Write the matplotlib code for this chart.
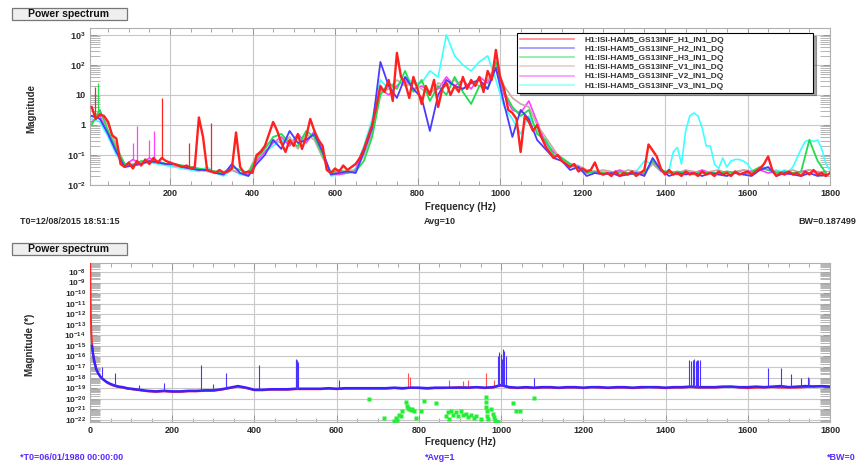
import numpy as np
import matplotlib
matplotlib.use('Agg')
import matplotlib.pyplot as plt
from matplotlib.ticker import FixedLocator, FixedFormatter, LogLocator, NullFormatter, MultipleLocator
from matplotlib.patches import Rectangle

plt.rcParams['font.family'] = ['Liberation Sans', 'DejaVu Sans']
plt.rcParams['font.weight'] = 'bold'
plt.rcParams['mathtext.fontset'] = 'custom'
plt.rcParams['mathtext.rm'] = 'Liberation Sans:bold'
plt.rcParams['mathtext.it'] = 'Liberation Sans:bold'
plt.rcParams['mathtext.bf'] = 'Liberation Sans:bold'
plt.rcParams['mathtext.default'] = 'rm'

# ---------------- top panel data (log10 magnitude) ----------------
channels = ['H1:ISI-HAM5_GS13INF_H1_IN1_DQ', 'H1:ISI-HAM5_GS13INF_H2_IN1_DQ',
            'H1:ISI-HAM5_GS13INF_H3_IN1_DQ', 'H1:ISI-HAM5_GS13INF_V1_IN1_DQ',
            'H1:ISI-HAM5_GS13INF_V2_IN1_DQ', 'H1:ISI-HAM5_GS13INF_V3_IN1_DQ']

f10 = np.arange(10, 1801, 10)   # red channel sampled every 10 Hz
f20 = np.arange(10, 1800, 20)   # other channels every 20 Hz

h1 = [0.60, 0.20, 0.35, 0.30, 0.10, -0.35, -0.45, -1.30, -1.40, -1.25,
      -1.45, -1.20, -1.35, -1.15, -1.30, -1.10, -1.25, -1.10, -1.20, -1.25,
      -1.30, -1.35, -1.40, -1.35, -1.45, -1.40, 0.25, -0.40, -1.50, -1.55,
      -1.60, -1.50, -1.60, -1.55, -1.45, -0.25, -1.40, -1.60, -1.55, -1.60,
      -1.00, -0.90, -0.70, -0.30, 0.10, -0.20, -0.60, -0.90, -0.50, -0.70,
      -0.30, -0.80, -0.40, 0.20, -0.20, -0.50, -0.70, -1.50, -1.60, -1.45,
      -1.55, -1.35, -1.50, -1.40, -1.30, -1.10, -0.80, -0.40, 0.00, 0.60,
      1.30, 1.10, 1.50, 0.80, 2.40, 1.60, 1.40, 0.90, 1.60, 1.20,
      0.70, 1.30, 1.00, 1.50, 0.60, 1.20, 1.40, 1.00, 1.30, 1.10,
      1.60, 1.20, 1.50, 1.30, 1.60, 1.10, 1.80, 1.50, 2.50, 1.60,
      1.20, 0.50, 0.40, 0.20, -0.90, 0.30, 0.10, -0.20, 0.00, -0.40,
      -0.70, -0.90, -1.10, -1.00, -1.20, -1.30, -1.40, -1.30, -1.55, -1.45,
      -1.55, -1.50, -1.25, -1.60, -1.65, -1.60, -1.70, -1.55, -1.70, -1.60,
      -1.65, -1.55, -1.70, -1.60, -1.50, -0.65, -0.85, -1.05, -1.45, -1.65,
      -1.50, -1.65, -1.60, -1.70, -1.55, -1.65, -1.60, -1.70, -1.55, -1.65,
      -1.60, -1.70, -1.55, -1.65, -1.60, -1.70, -1.55, -1.65, -1.60, -1.55,
      -1.65, -1.55, -1.45, -1.30, -1.05, -1.50, -1.70, -1.60, -1.65, -1.55,
      -1.65, -1.60, -1.70, -1.55, -1.65, -1.50, -1.65, -1.60, -1.70, -1.60]

h2 = [0.30, 0.20, -0.30, -0.90, -1.40, -1.35, -1.30, -1.20, -1.25, -1.30,
      -1.30, -1.40, -1.45, -1.50, -1.50, -1.60, -1.65, -1.30, -1.60, -1.70,
      -1.30, -1.00, -0.50, -0.80, -0.20, -0.60, -0.50, -0.30, -0.90, -1.65,
      -1.60, -1.55, -1.60, -0.90, -0.10, 2.10, 1.30, 0.90, 1.60, 1.20,
      0.90, -0.20, 1.00, 1.50, 1.30, 1.20, 1.40, 1.50, 1.20, 1.90,
      0.70, -0.40, 0.50, 0.20, -0.50, -0.80, -1.10, -1.20, -1.50, -1.40,
      -1.70, -1.60, -1.65, -1.60, -1.70, -1.65, -1.60, -1.70, -1.10, -1.50,
      -1.70, -1.60, -1.65, -1.60, -1.70, -1.60, -1.65, -1.70, -1.60, -1.65,
      -1.70, -1.50, -1.40, -1.70, -1.60, -1.65, -1.70, -1.60, -1.70, -1.65]

h3 = [0.00, 0.50, -0.20, -0.80, -1.30, -1.35, -1.20, -1.25, -1.20, -1.30,
      -1.30, -1.35, -1.40, -1.45, -1.50, -1.55, -1.60, -1.40, -1.50, -1.60,
      -1.10, -0.80, -0.40, -0.30, -0.60, -0.70, -0.20, -0.40, -1.00, -1.60,
      -1.50, -1.60, -1.55, -1.20, -0.40, 1.00, 1.40, 1.20, 1.80, 1.10,
      1.50, 0.80, 1.30, 1.00, 1.60, 1.10, 0.70, 1.30, 1.20, 2.10,
      1.10, 0.60, 0.30, 0.50, -0.30, -0.50, -1.00, -1.10, -1.30, -1.40,
      -1.60, -1.55, -1.60, -1.65, -1.55, -1.60, -1.65, -1.60, -1.20, -1.50,
      -1.60, -1.55, -1.60, -1.65, -1.55, -1.60, -1.60, -1.55, -1.60, -1.65,
      -1.55, -1.40, -1.50, -1.60, -1.55, -1.60, -1.55, -0.50, -1.20, -1.60]

v1 = [0.30, 0.40, 0.00, -0.70, -1.30, -1.30, -1.25, -1.20, -1.25, -1.30,
      -1.35, -1.40, -1.40, -1.50, -1.55, -1.60, -1.55, -1.50, -1.60, -1.55,
      -1.00, -0.70, -0.50, -0.60, -0.40, -0.80, -0.30, -0.50, -1.10, -1.55,
      -1.60, -1.50, -1.55, -1.00, -0.30, 1.10, 1.20, 1.50, 1.30, 1.40,
      1.20, 1.00, 1.40, 1.30, 1.50, 1.20, 1.40, 1.30, 1.50, 2.00,
      1.30, 0.90, 0.70, 0.60, 0.00, -0.40, -0.80, -1.20, -1.30, -1.35,
      -1.50, -1.55, -1.50, -1.55, -1.60, -1.50, -1.55, -1.60, -1.30, -1.55,
      -1.55, -1.60, -1.50, -1.55, -1.60, -1.55, -1.50, -1.60, -1.55, -1.50,
      -1.60, -1.45, -1.50, -1.55, -1.60, -1.50, -1.60, -1.50, -1.55, -1.60]

v2 = [0.10, 0.30, -0.30, -0.90, -1.35, -1.15, -1.30, -1.10, -1.25, -1.30,
      -1.35, -1.40, -1.45, -1.50, -1.50, -1.55, -1.60, -1.50, -1.60, -1.65,
      -1.20, -0.90, -0.60, -0.40, -0.70, -0.30, -0.60, -0.20, -0.90, -1.60,
      -1.65, -1.60, -1.50, -0.80, -0.30, 1.20, 1.00, 1.30, 1.50, 1.20,
      1.30, 1.10, 1.20, 1.60, 1.30, 1.50, 1.20, 1.60, 1.40, 1.90,
      1.00, 0.50, 0.40, 0.80, 0.10, -0.60, -0.90, -1.10, -1.30, -1.45,
      -1.60, -1.55, -1.65, -1.60, -1.50, -1.60, -1.55, -1.65, -1.20, -1.55,
      -1.60, -1.65, -1.55, -1.60, -1.50, -1.60, -1.65, -1.55, -1.60, -1.50,
      -1.55, -1.50, -1.60, -1.55, -1.65, -1.60, -1.55, -1.50, -1.60, -1.55]

# V3: 20 Hz samples below 1400 Hz, 10 Hz samples from 1400 Hz (humps)
f_v3 = np.concatenate([np.arange(10, 1400, 20), np.arange(1400, 1801, 10)])
v3 = [0.20, 0.10, -0.40, -1.00, -1.40, -1.35, -1.30, -1.25, -1.30, -1.35,
      -1.40, -1.45, -1.50, -1.55, -1.40, -1.60, -1.70, -1.50, -1.65, -1.70,
      -1.20, -0.90, -0.70, -0.50, -0.60, -0.40, -0.50, -0.30, -1.00, -1.70,
      -1.65, -1.60, -1.45, -0.70, 0.20, 1.50, 1.20, 1.30, 1.60, 1.40,
      1.40, 1.80, 1.60, 3.00, 2.30, 2.00, 1.80, 2.10, 2.30, 1.50,
      0.60, 0.20, -0.30, 0.30, -0.20, -0.50, -0.90, -1.10, -1.35, -1.45,
      -1.55, -1.60, -1.55, -1.60, -1.55, -1.60, -1.55, -1.20, -1.30, -1.50,
      -1.55, -1.50, -0.90, -0.75, -1.30, -0.20, 0.30, 0.40, 0.30, -0.10,
      -0.70, -0.70, -1.30, -1.45, -1.10, -1.40, -1.20, -1.15, -1.15, -1.20,
      -1.30, -1.50, -1.55, -1.50, -1.40, -1.50, -1.55, -1.50, -1.55, -1.50,
      -1.55, -1.40, -1.10, -0.80, -0.55, -0.50, -0.55, -0.50, -0.80, -1.30,
      -1.50]

# narrow lines in the top panel
h1_spike_f = [18, 180, 245, 300]
h1_spike_v = [1.25, 0.90, -0.60, 0.05]
v2_spike_f = [110, 120, 150, 161]
v2_spike_v = [-0.60, -0.05, -0.50, -0.20]
h3_spike_f = [25]
h3_spike_v = [1.40]

# ---------------- bottom panel data (log10 magnitude) ----------------
fb_low = [0.5, 1, 2, 3, 5, 7, 10, 15, 20, 25, 30, 40, 50, 60, 70, 80, 90, 100]
fb_mid = np.arange(120, 1801, 20)
fb = np.concatenate([fb_low, fb_mid])

red_b = [-7.0, -9.0, -12.0, -13.5, -14.8, -15.6, -16.3, -17.1, -17.6, -17.9,
         -18.1, -18.45, -18.65, -18.8, -18.9, -18.95, -19.05, -19.1,
         -19.2, -19.3, -19.35, -19.3, -19.35, -19.35, -19.3, -19.3, -19.25, -19.25,
         -19.15, -19.0, -18.85, -19.0, -19.2, -19.2, -19.15, -19.15, -19.15, -19.1,
         -19.1, -19.1, -19.1, -19.05, -19.1, -19.05, -19.05, -19.05, -19.05, -19.05,
         -19.05, -19.0, -19.05, -18.95, -19.0, -19.05, -19.0, -19.0, -18.95, -18.9,
         -18.95, -18.9, -19.0, -18.95, -18.75, -18.95, -19.0, -18.95, -19.0, -18.95,
         -18.95, -19.0, -18.95, -18.95, -19.0, -18.9, -18.95, -19.0, -18.95, -18.95,
         -19.0, -18.95, -18.9, -18.95, -19.0, -18.95, -18.95, -18.9, -18.95, -18.95,
         -18.95, -18.9, -18.85, -18.95, -19.0, -18.95, -18.95, -18.9, -18.95, -18.95,
         -18.95, -18.9, -18.8, -18.85, -18.9]

blue_b = [np.nan, np.nan, np.nan, np.nan, -15.0, -15.7, -16.4, -17.2, -17.6, -17.9,
          -18.1, -18.4, -18.6, -18.75, -18.85, -18.9, -19.0, -19.05,
          -19.15, -19.25, -19.3, -19.25, -19.3, -19.3, -19.25, -19.25, -19.2, -19.2,
          -19.1, -18.95, -18.8, -18.95, -19.15, -19.15, -19.1, -19.1, -19.1, -19.05,
          -19.05, -19.05, -19.05, -19.0, -19.05, -19.0, -19.0, -19.0, -19.0, -19.0,
          -19.0, -18.95, -19.0, -18.95, -18.95, -19.0, -18.95, -18.95, -18.95, -18.95,
          -18.95, -18.9, -18.95, -18.9, -18.7, -18.9, -18.95, -18.9, -18.95, -18.9,
          -18.9, -18.95, -18.9, -18.9, -18.95, -18.9, -18.9, -18.95, -18.9, -18.9,
          -18.95, -18.9, -18.9, -18.9, -18.95, -18.9, -18.9, -18.85, -18.9, -18.9,
          -18.9, -18.85, -18.85, -18.9, -18.9, -18.85, -18.9, -18.85, -18.8, -18.9,
          -18.85, -18.8, -18.85, -18.8, -18.85]

blue_spike_f = [30, 60, 120, 180, 270, 300, 330, 410, 500, 502, 504, 506, 605,
                993, 996, 999, 1002, 1005, 1008, 1011, 1080,
                1458, 1462, 1466, 1470, 1473, 1476, 1480, 1484,
                1650, 1680, 1705, 1730, 1746]
blue_spike_v = [-17.0, -17.6, -18.7, -18.5, -16.8, -18.6, -17.6, -16.8, -16.4, -16.2, -16.3, -16.5, -18.2,
                -16.0, -15.6, -15.8, -16.2, -15.3, -15.5, -16.0, -18.0,
                -16.3, -16.4, -16.3, -16.2, -16.4, -16.3, -16.3, -16.3,
                -17.1, -17.1, -17.7, -18.0, -17.9]
red_spike_f = [773, 778, 873, 907, 919, 963, 983, 1750]
red_spike_v = [-17.6, -17.9, -18.2, -18.3, -18.2, -17.6, -18.2, -18.0]

green_f = [678, 715, 739, 744, 747, 751, 756, 760, 768, 770, 773, 776, 780, 784, 789, 793,
           805, 812, 841, 866, 870, 874, 878, 884, 890, 896, 902, 908, 914, 920, 927, 934, 940,
           951, 963, 963, 964, 965, 966, 968, 976, 980, 983, 985, 988, 992, 1029, 1037, 1046, 1081]
green_v = [-20.0, -21.8, -22.1, -21.8, -22.0, -21.5, -21.6, -21.2, -20.3, -20.7, -20.9, -21.0, -21.1,
           -21.0, -21.2, -21.8, -21.2, -20.2, -20.4, -21.6, -21.3, -21.9, -21.2, -21.5, -21.3,
           -21.6, -21.2, -21.5, -21.4, -21.7, -21.5, -21.8, -21.6, -21.9, -19.8, -20.3, -20.8,
           -21.2, -21.6, -21.9, -21.0, -21.4, -21.7, -22.0, -22.2, -22.2, -20.4, -21.2, -21.2, -19.9]

# ---------------- drawing ----------------
W, H = 859, 465
fig = plt.figure(figsize=(W / 100, H / 100), dpi=100)

grid_c = '#c8c8c8'
frame_c = '#b0b0b0'
txt_c = '#2a2a2a'


def style_axes(ax):
    ax.set_yscale('log')
    ax.set_facecolor('white')
    for s in ax.spines.values():
        s.set_color(frame_c)
        s.set_linewidth(0.8)
    ax.xaxis.set_major_locator(MultipleLocator(200))
    ax.xaxis.set_minor_locator(MultipleLocator(50))
    ax.tick_params(which='both', direction='in', top=True, right=True,
                   colors='#999999', labelcolor=txt_c, labelsize=6.5, pad=3)
    ax.tick_params(which='major', length=5, width=0.7)
    ax.tick_params(axis='y', which='minor', length=7, width=0.6, colors='#aaaaaa')
    ax.tick_params(axis='x', which='minor', length=3, width=0.6)
    ax.grid(True, which='major', color=grid_c, lw=0.8)
    ax.set_axisbelow(True)


def header(y_px):
    fig.patches.append(Rectangle((12 / W, 1 - (y_px + 12) / H), 115 / W, 12 / H,
                                 transform=fig.transFigure, fc='#efefef', ec='#777777', lw=0.9))
    fig.text(69 / W, 1 - (y_px + 6) / H, 'Power spectrum', fontsize=7.5, ha='center', va='center',
             color='#111111')


# ---- top panel
ax1 = fig.add_axes([90 / W, 1 - 185 / H, 740 / W, 157 / H])
style_axes(ax1)
colors = ['#ff2020', '#4a3cff', '#20dd50', '#c8aaa2', '#ff40ff', '#40ffff']
widths = [1.7, 1.3, 1.3, 1.2, 1.2, 1.2]
series = [(f10, h1), (f20, h2), (f20, h3), (f20, v1), (f20, v2), (f_v3, v3)]
handles = [None] * 6
for i in [5, 4, 3, 2, 1, 0]:
    fx, vals = series[i]
    handles[i], = ax1.plot(fx, 10 ** np.array(vals), color=colors[i], lw=widths[i], zorder=3 + (5 - i))


def spikes(ax, fx, vals, sf, sv, color, lw, z):
    base = np.interp(sf, fx, vals)
    ax.vlines(sf, 10 ** base, 10 ** np.array(sv), color=color, lw=lw, zorder=z)


spikes(ax1, f20, v2, v2_spike_f, v2_spike_v, colors[4], 0.9, 4)
spikes(ax1, f20, h3, h3_spike_f, h3_spike_v, colors[2], 0.9, 6)
spikes(ax1, f10, h1, h1_spike_f, h1_spike_v, colors[0], 0.9, 9)

ax1.set_xlim(6, 1800)
ax1.set_ylim(10 ** -2, 10 ** 3.23)
ax1.yaxis.set_major_locator(FixedLocator([1e-2, 1e-1, 1, 10, 1e2, 1e3]))
ax1.yaxis.set_major_formatter(FixedFormatter(['$10^{-2}$', '$10^{-1}$', '1', '10', '$10^{2}$', '$10^{3}$']))
ax1.yaxis.set_minor_locator(LogLocator(base=10, subs=np.arange(2, 10), numticks=20))
ax1.yaxis.set_minor_formatter(NullFormatter())

leg = ax1.legend(handles, channels, loc='upper left', bbox_to_anchor=(0.577, 0.968, 0.40, 0.0),
                 mode='expand', fontsize=6, labelspacing=0.16, handlelength=6.5, handletextpad=1.3,
                 borderpad=0.35, borderaxespad=0.0, fancybox=False, shadow=True, framealpha=1,
                 edgecolor='black')
leg.get_frame().set_linewidth(0.8)
for t in leg.get_texts():
    t.set_color('#333333')
for ln in leg.get_lines():
    ln.set_alpha(0.55)
    ln.set_linewidth(1.2)
leg.set_zorder(20)

header(8)
fig.text(31 / W, 1 - 108 / H, 'Magnitude', rotation=90, fontsize=7, ha='center', va='center', color=txt_c)
fig.text(460 / W, 1 - 207 / H, 'Frequency (Hz)', fontsize=7, ha='center', va='center', color=txt_c)
fig.text(20 / W, 1 - 221 / H, 'T0=12/08/2015 18:51:15', fontsize=6.5, ha='left', va='center', color=txt_c)
fig.text(440 / W, 1 - 221 / H, 'Avg=10', fontsize=6.5, ha='center', va='center', color=txt_c)
fig.text(856 / W, 1 - 221 / H, 'BW=0.187499', fontsize=6.5, ha='right', va='center', color=txt_c)

# ---- bottom panel
ax2 = fig.add_axes([90 / W, 1 - 422 / H, 740 / W, 159 / H])
style_axes(ax2)
ax2.plot(fb, 10 ** np.array(red_b), color='#ff2a2a', lw=1.4, zorder=3)
spikes(ax2, fb, red_b, red_spike_f, red_spike_v, '#ff5050', 0.8, 3)
ax2.plot(fb, 10 ** np.array(blue_b), color='#3a22ff', lw=1.8, zorder=4)
spikes(ax2, fb, blue_b, blue_spike_f, blue_spike_v, '#4a33ff', 0.8, 4)
ax2.plot(green_f, 10 ** np.array(green_v), 's', color='#22ee33', ms=2.6, mec='none', zorder=5)

ax2.set_xlim(0, 1800)
ax2.set_ylim(10 ** -22.2, 10 ** -7.15)
dec = list(range(-8, -23, -1))
ax2.yaxis.set_major_locator(FixedLocator([10.0 ** d for d in dec]))
ax2.yaxis.set_major_formatter(FixedFormatter(['$10^{%d}$' % d for d in dec]))
ax2.yaxis.set_minor_locator(LogLocator(base=10, subs=np.arange(2, 10), numticks=40))
ax2.yaxis.set_minor_formatter(NullFormatter())
ax2.tick_params(axis='y', labelsize=6)

header(243)
purple = '#5b2bff'
fig.text(30 / W, 1 - 345 / H, 'Magnitude (*)', rotation=90, fontsize=7, ha='center', va='center', color=txt_c)
fig.text(460 / W, 1 - 442 / H, 'Frequency (Hz)', fontsize=7, ha='center', va='center', color=txt_c)
fig.text(20 / W, 1 - 457 / H, '*T0=06/01/1980 00:00:00', fontsize=6.5, ha='left', va='center', color=purple)
fig.text(440 / W, 1 - 457 / H, '*Avg=1', fontsize=6.5, ha='center', va='center', color=purple)
fig.text(856 / W, 1 - 457 / H, '*BW=0', fontsize=6.5, ha='right', va='center', color=purple)

fig.savefig('out.png', dpi=100, facecolor='white')
